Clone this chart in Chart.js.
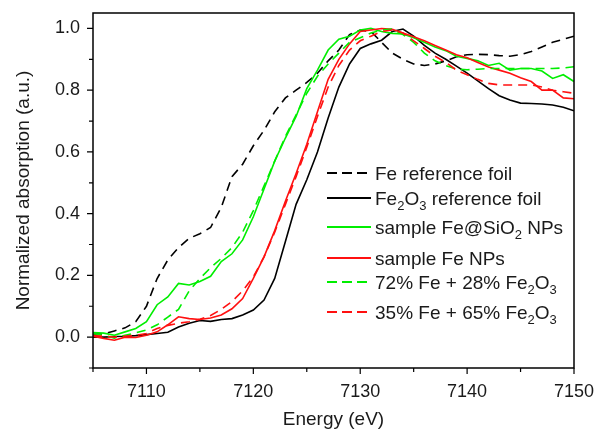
<!DOCTYPE html>
<html lang="en">
<head>
    <meta charset="UTF-8"/>
    <script src="https://cdn.jsdelivr.net/npm/chart.js@4.4.1/dist/chart.umd.min.js"></script>
    <title>XANES Fe K-edge</title>
    <style>
        body { margin: 0; background: #fff; }
        canvas { display: block; }
    </style>
</head>
<body>
<canvas id="xanes" width="594" height="431"></canvas>
<script>
    // energy axis (eV)
    const energy = [7105, 7106, 7107, 7108, 7109, 7110, 7111, 7112, 7113, 7114, 7115, 7116, 7117, 7118, 7119,
        7120, 7121, 7122, 7123, 7124, 7125, 7126, 7127, 7128, 7129, 7130, 7131, 7132, 7133, 7134, 7135, 7136,
        7137, 7138, 7139, 7140, 7141, 7142, 7143, 7144, 7145, 7146, 7147, 7148, 7149, 7150];

    // normalized absorption
    const feFoil = [0.01, 0.01, 0.02, 0.03, 0.05, 0.10, 0.19, 0.25, 0.29, 0.32, 0.335, 0.355, 0.42, 0.52, 0.56,
        0.62, 0.67, 0.73, 0.775, 0.80, 0.825, 0.855, 0.895, 0.93, 0.98, 0.995, 0.99, 0.955, 0.92, 0.90, 0.885, 0.88,
        0.885, 0.895, 0.908, 0.915, 0.916, 0.915, 0.912, 0.91, 0.915, 0.925, 0.94, 0.955, 0.965, 0.975];
    const fe2o3Foil = [0.0, 0.0, 0.002, 0.003, 0.005, 0.008, 0.012, 0.016, 0.033, 0.045, 0.054, 0.051, 0.057, 0.06, 0.072,
        0.088, 0.12, 0.19, 0.31, 0.43, 0.51, 0.60, 0.71, 0.81, 0.885, 0.935, 0.95, 0.962, 0.99, 0.998, 0.975, 0.945,
        0.92, 0.90, 0.878, 0.855, 0.83, 0.805, 0.782, 0.768, 0.758, 0.757, 0.755, 0.752, 0.745, 0.733];
    const feSiO2 = [0.015, 0.013, 0.006, 0.017, 0.028, 0.05, 0.105, 0.13, 0.174, 0.169, 0.18, 0.197, 0.245, 0.27, 0.315,
        0.39, 0.48, 0.57, 0.645, 0.715, 0.805, 0.865, 0.93, 0.965, 0.975, 0.995, 1.0, 0.99, 0.984, 0.982, 0.97, 0.955,
        0.94, 0.928, 0.91, 0.903, 0.895, 0.88, 0.887, 0.865, 0.87, 0.87, 0.862, 0.838, 0.85, 0.828];
    const feNPs = [0.003, -0.004, -0.01, 0.0, -0.001, 0.006, 0.017, 0.04, 0.066, 0.06, 0.057, 0.062, 0.072, 0.092, 0.125,
        0.19, 0.26, 0.345, 0.44, 0.53, 0.625, 0.73, 0.835, 0.90, 0.95, 0.99, 0.995, 1.0, 0.997, 0.985, 0.973, 0.96,
        0.945, 0.93, 0.915, 0.905, 0.89, 0.875, 0.865, 0.855, 0.84, 0.828, 0.80, 0.80, 0.775, 0.772];
    const fit72 = [0.012, 0.006, -0.003, 0.006, 0.014, 0.023, 0.04, 0.065, 0.09, 0.15, 0.19, 0.225, 0.255, 0.29, 0.34,
        0.41, 0.49, 0.57, 0.65, 0.72, 0.79, 0.845, 0.885, 0.92, 0.955, 0.97, 0.985, 0.995, 0.998, 0.98, 0.955, 0.92,
        0.895, 0.88, 0.868, 0.866, 0.868, 0.87, 0.87, 0.87, 0.87, 0.87, 0.87, 0.87, 0.872, 0.876];
    const fit35 = [0.005, 0.003, 0.0, 0.003, 0.006, 0.012, 0.028, 0.038, 0.045, 0.05, 0.058, 0.07, 0.09, 0.115, 0.15,
        0.195, 0.26, 0.34, 0.43, 0.52, 0.615, 0.715, 0.81, 0.88, 0.93, 0.96, 0.975, 0.99, 0.995, 0.985, 0.96, 0.935,
        0.91, 0.89, 0.865, 0.85, 0.835, 0.822, 0.817, 0.817, 0.817, 0.817, 0.81, 0.80, 0.795, 0.79];

    // legend text, subscripts marked with _
    const legendLabels = ['Fe reference foil', 'Fe_2O_3 reference foil', 'sample Fe@SiO_2 NPs', 'sample Fe NPs',
        '72% Fe + 28% Fe_2O_3', '35% Fe + 65% Fe_2O_3'];
    const legendRows = [173, 198, 227, 258, 282, 312];

    const FONT = '"Liberation Sans", Arial, sans-serif';
    const GREEN = '#00ee00';
    const RED = '#ff1010';
    const DASH = [9, 6];

    const series = [
        {data: feFoil, color: '#000000', dash: DASH},
        {data: fe2o3Foil, color: '#000000', dash: []},
        {data: feSiO2, color: GREEN, dash: []},
        {data: feNPs, color: RED, dash: []},
        {data: fit72, color: GREEN, dash: DASH},
        {data: fit35, color: RED, dash: DASH},
    ];

    function points(arr) {
        return energy.map((e, i) => ({x: e, y: arr[i]}));
    }

    // frame + outward ticks (major/minor)
    const framePlugin = {
        id: 'frame',
        afterDraw(chart) {
            const ctx = chart.ctx;
            const a = chart.chartArea;
            const xs = chart.scales.x, ys = chart.scales.y;
            ctx.save();
            ctx.strokeStyle = '#000';
            ctx.lineWidth = 1.5;
            ctx.strokeRect(a.left, a.top, a.right - a.left, a.bottom - a.top);
            ctx.lineWidth = 1.2;
            ctx.beginPath();
            xs.ticks.forEach(t => {
                const px = xs.getPixelForValue(t.value);
                const len = Math.round(t.value) % 10 === 0 ? 6 : 4;
                ctx.moveTo(px, a.bottom);
                ctx.lineTo(px, a.bottom + len);
            });
            ys.ticks.forEach(t => {
                const py = ys.getPixelForValue(t.value);
                const len = Math.round(t.value * 10) % 2 === 0 ? 6 : 4;
                ctx.moveTo(a.left, py);
                ctx.lineTo(a.left - len, py);
            });
            ctx.stroke();
            ctx.restore();
        }
    };

    // draw text with _x subscripts
    function drawRich(ctx, text, x, y) {
        const parts = text.split(/(_\d)/);
        parts.forEach(p => {
            if (!p) return;
            if (p[0] === '_') {
                ctx.font = '13px ' + FONT;
                ctx.fillText(p.slice(1), x, y + 5);
                x += ctx.measureText(p.slice(1)).width;
            } else {
                ctx.font = '19px ' + FONT;
                ctx.fillText(p, x, y);
                x += ctx.measureText(p).width;
            }
        });
    }

    const legendPlugin = {
        id: 'customLegend',
        afterDraw(chart) {
            const ctx = chart.ctx;
            ctx.save();
            series.forEach((s, i) => {
                const y = legendRows[i];
                ctx.strokeStyle = s.color;
                ctx.lineWidth = 1.8;
                ctx.setLineDash(s.dash.length ? [10, 5] : []);
                ctx.beginPath();
                ctx.moveTo(327, y);
                ctx.lineTo(371, y);
                ctx.stroke();
                ctx.setLineDash([]);
                ctx.fillStyle = '#1a1a1a';
                ctx.textBaseline = 'alphabetic';
                drawRich(ctx, legendLabels[i], 375, y + 7);
            });
            ctx.restore();
        }
    };

    const ctx = document.getElementById('xanes').getContext('2d');
    const xanesChart = new Chart(ctx, {
        type: 'line',
        data: {
            datasets: series.map((s, i) => ({
                label: legendLabels[i],
                data: points(s.data),
                borderColor: s.color,
                borderWidth: 1.6,
                borderDash: s.dash,
                pointRadius: 0,
                tension: 0,
                fill: false,
                order: series.length - i,
            }))
        },
        options: {
            responsive: false,
            animation: false,
            layout: {padding: {left: 0, right: 20, top: 13, bottom: 0}},
            plugins: {legend: {display: false}, tooltip: {enabled: false}},
            scales: {
                x: {
                    type: 'linear',
                    min: 7105,
                    max: 7150,
                    grid: {display: false},
                    border: {display: false},
                    ticks: {
                        stepSize: 5,
                        autoSkip: false,
                        maxRotation: 0,
                        padding: 5,
                        color: '#1a1a1a',
                        font: {family: FONT, size: 18},
                        callback: v => (Math.round(v) % 10 === 0 ? String(v) : ''),
                    },
                    title: {
                        display: true,
                        text: 'Energy (eV)',
                        color: '#1a1a1a',
                        font: {family: FONT, size: 19},
                        padding: {top: 0, bottom: 0},
                    },
                    // fixed box, no extra room for the end labels
                    afterFit: s => { s.height = 63; s.paddingLeft = 0; s.paddingRight = 0; },
                },
                y: {
                    min: -0.1,
                    max: 1.05,
                    grid: {display: false},
                    border: {display: false},
                    ticks: {
                        stepSize: 0.1,
                        includeBounds: false,
                        autoSkip: false,
                        padding: 5,
                        color: '#1a1a1a',
                        font: {family: FONT, size: 18},
                        callback: v => (Math.round(v * 10) % 2 === 0 ? (Math.round(v * 10) / 10).toFixed(1) : ''),
                    },
                    title: {
                        display: true,
                        text: 'Normalized absorption (a.u.)',
                        color: '#1a1a1a',
                        font: {family: FONT, size: 19},
                        padding: {top: 12, bottom: 0},
                    },
                    afterFit: s => { s.width = 93; s.paddingTop = 0; s.paddingBottom = 0; },
                }
            }
        },
        plugins: [framePlugin, legendPlugin]
    });
</script>
</body>
</html>
